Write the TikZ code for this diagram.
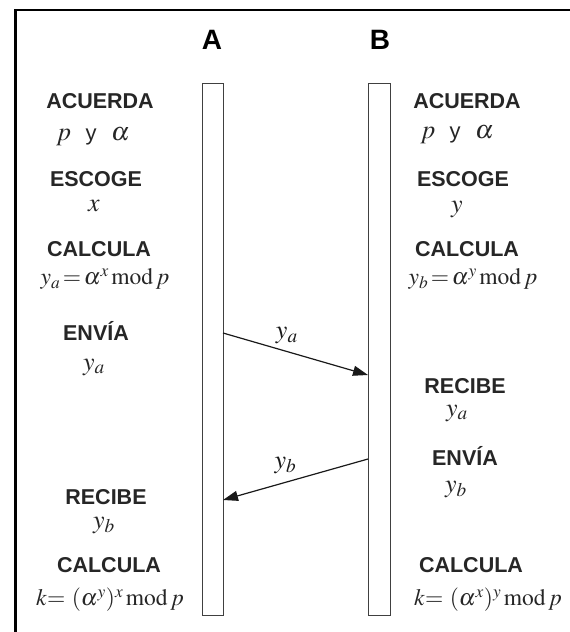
\documentclass[tikz,border=0pt]{standalone}
\usepackage{mathptmx}
\usepackage[no-math]{fontspec}
\setmainfont{Liberation Sans}
\usepackage{tikz}
\usetikzlibrary{arrows.meta, positioning, calc}

\begin{document}
\begin{tikzpicture}[
    x=1pt, y=-1pt,
    >={Triangle[length=15pt, width=10pt]},
    party/.style = {font=\bfseries\fontsize{28}{30}\selectfont, inner sep=0pt},
    act/.style   = {font=\bfseries\fontsize{21.5}{24}\selectfont, inner sep=0pt, text=black!85},
    val/.style   = {font=\fontsize{26}{28}\selectfont, inner sep=0pt, text=black!85},
    eqn/.style   = {font=\fontsize{23.5}{25}\selectfont, inner sep=0pt, text=black!85},
    bar/.style   = {rectangle, draw=black!75, line width=1pt, outer sep=0pt, minimum height=532pt},
    msg/.style   = {->, line width=1.2pt, black!90},
    mlab/.style  = {font=\fontsize{26}{28}\selectfont, inner sep=0pt}
  ]
  \useasboundingbox (0,0) rectangle (570,632);

  % --- frame ---
  \draw[line width=3.5pt] (15.5,632) -- (15.5,9);
  \draw[line width=2.5pt] (14,10) -- (570,10);

  % --- parties and their time bars ---
  \node[party] (A) at (212,40) {A};
  \node[party] (B) at (380,40) {B};
  \node[bar, minimum width=21pt] (barA) at (212.5,349) {};
  \node[bar, minimum width=22pt] (barB) at (379,349) {};

  % --- steps of A ---
  \node[act] (acA)  at (100,101) {ACUERDA};
  \node[val] (acAv) at (93,137)  {$p$\ \ {\fontsize{22}{24}\selectfont y}\ \ $\alpha$};
  \node[act] (esA)  at (96,179)  {ESCOGE};
  \node[val] (esAv) at (94,206)  {$x$};
  \node[act] (caA)  at (99,249)  {CALCULA};
  \node[eqn] (caAv) at (105,279) {$y_a\mkern-2mu=\mkern-2mu\alpha^x\,\mathrm{mod}\,p$};
  \node[act] (enA)  at (96,331)  {ENVÍA};
  \node[val] (enAv) at (94,367)  {$y_a$};
  \node[act] (reA)  at (106,497) {RECIBE};
  \node[val] (reAv) at (104,525) {$y_b$};
  \node[act] (kA)   at (109,565) {CALCULA};
  \node[eqn] (kAv)  at (110,600) {$k{=}\ (\alpha^y)^x\,\mathrm{mod}\,p$};

  % --- steps of B ---
  \node[act] (acB)  at (467,101) {ACUERDA};
  \node[val] (acBv) at (457,135) {$p$\ \ {\fontsize{22}{24}\selectfont y}\ \ $\alpha$};
  \node[act] (esB)  at (463,179) {ESCOGE};
  \node[val] (esBv) at (457,210) {$y$};
  \node[act] (caB)  at (467,249) {CALCULA};
  \node[eqn] (caBv) at (473,279) {$y_b\mkern-2mu=\mkern-2mu\alpha^y\,\mathrm{mod}\,p$};
  \node[act] (reB)  at (465,386) {RECIBE};
  \node[val] (reBv) at (457,413) {$y_a$};
  \node[act] (enB)  at (465,456) {ENVÍA};
  \node[val] (enBv) at (456,489) {$y_b$};
  \node[act] (kB)   at (471,565) {CALCULA};
  \node[eqn] (kBv)  at (488,600) {$k{=}\ (\alpha^x)^y\,\mathrm{mod}\,p$};

  % --- exchanged values ---
  \coordinate (outA) at ([yshift=-250pt]barA.north east);
  \coordinate (inB)  at ([yshift=-292pt]barB.north west);
  \coordinate (outB) at ([yshift=-376pt]barB.north west);
  \coordinate (inA)  at ([yshift=-417pt]barA.north east);

  \draw[msg] (outA) -- node[mlab, pos=0.44, yshift=16pt]{$y_a$} (inB);
  \draw[msg] (outB) -- node[mlab, pos=0.57, yshift=17pt]{$y_b$} (inA);

\end{tikzpicture}
\end{document}
